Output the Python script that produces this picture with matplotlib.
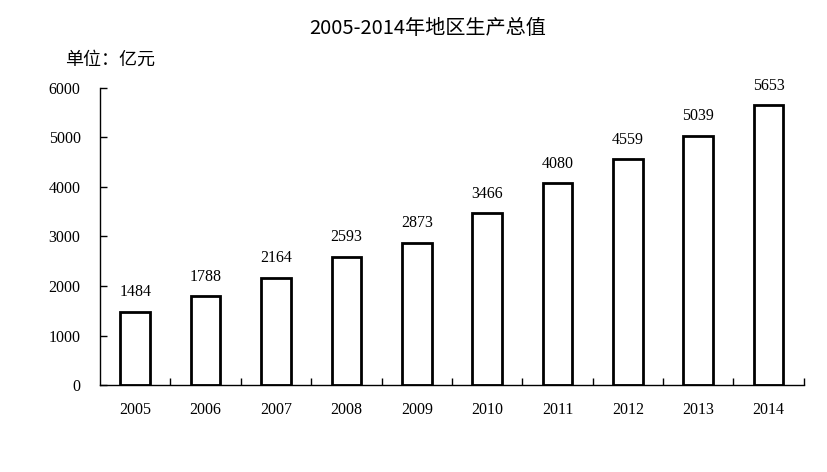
import matplotlib
matplotlib.use('Agg')
import matplotlib.pyplot as plt
import numpy as np

years = ['2005', '2006', '2007', '2008', '2009', '2010', '2011', '2012', '2013', '2014']
gdp = [1484, 1788, 2164, 2593, 2873, 3466, 4080, 4559, 5039, 5653]
yticks = [0, 1000, 2000, 3000, 4000, 5000, 6000]

serif = ['Liberation Serif', 'DejaVu Serif']
cjk = ['Noto Sans CJK SC', 'DejaVu Sans']

fig = plt.figure(figsize=(8.27, 4.72), dpi=100)
ax = fig.add_axes([0.121, 0.1843, 0.851, 0.6293])

x = np.arange(len(years))
ax.bar(x, gdp, width=0.42, color='white', edgecolor='black', linewidth=2)
for xi, v in zip(x, gdp):
    ax.text(xi, v + 230, str(v), ha='center', va='bottom', fontsize=11.5, family=serif)

ax.set_xlim(-0.5, len(years) - 0.5)
ax.set_ylim(0, 6000)
ax.set_yticks(yticks)
ax.set_yticklabels([str(t) for t in yticks], family=serif, fontsize=11.5)
ax.set_xticks(x)
ax.set_xticklabels(years, family=serif, fontsize=11.5)
ax.set_xticks(np.arange(0.5, len(years), 1.0), minor=True)
ax.tick_params(axis='x', which='major', length=0, pad=12)
ax.tick_params(axis='x', which='minor', direction='in', length=5, width=1)
ax.tick_params(axis='y', direction='in', length=5, width=1, pad=14)

ax.spines['top'].set_visible(False)
ax.spines['right'].set_visible(False)
ax.spines['left'].set_linewidth(1)
ax.spines['bottom'].set_linewidth(1)

fig.text(0.517, 0.94, '2005-2014年地区生产总值', ha='center', va='center', fontsize=14.5, family=cjk)
fig.text(0.079, 0.873, '单位：亿元', ha='left', va='center', fontsize=13, family=cjk)

fig.savefig('out.png', dpi=100)
